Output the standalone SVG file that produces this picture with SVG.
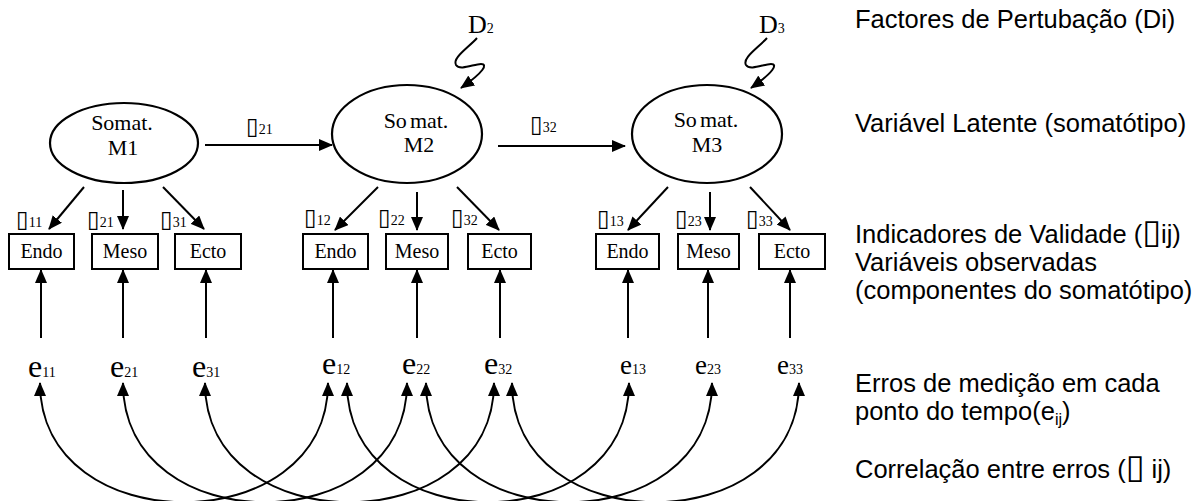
<svg xmlns="http://www.w3.org/2000/svg" width="1198" height="501" viewBox="0 0 1198 501">
<style>
.ell{fill:#fff;stroke:#000;stroke-width:2.2}
.box{fill:#fff;stroke:#000;stroke-width:2}
.ln{fill:none;stroke:#000;stroke-width:2}
.tm{font-family:"Liberation Serif","Times New Roman",serif;fill:#000}
.big{font-size:22px}
.bx{font-size:20px}
.sub{font-size:14px}
.tofu{font-family:"DejaVu Sans",sans-serif;font-size:23px}
.lg{font-family:"Liberation Sans",Arial,sans-serif;font-size:25.5px;fill:#000}
.lt{font-family:"DejaVu Sans",sans-serif;font-size:34px}
</style>
<defs>
<marker id="ah" viewBox="0 0 14 12" refX="13" refY="6" markerWidth="14" markerHeight="12" markerUnits="userSpaceOnUse" orient="auto-start-reverse">
<path d="M0,0 L14,6 L0,12 z" fill="#000"/>
</marker>
</defs>

<g id="connectors">
<line class="ln" x1="205" y1="145" x2="332" y2="145" marker-end="url(#ah)"/>
<line class="ln" x1="498" y1="146" x2="625" y2="146" marker-end="url(#ah)"/>
<path class="ln" d="M477,38 C468,48 452,58 456,65 C460,71 474,64 481,64 C488,64 484,72 461,88" marker-end="url(#ah)"/>
<path class="ln" d="M767,38 C758,48 742,58 746,65 C750,71 764,64 771,64 C778,64 774,72 751,88" marker-end="url(#ah)"/>
<line class="ln" x1="84" y1="187" x2="49" y2="229" marker-end="url(#ah)"/>
<line class="ln" x1="123" y1="190" x2="123" y2="229" marker-end="url(#ah)"/>
<line class="ln" x1="163" y1="187" x2="204" y2="229" marker-end="url(#ah)"/>
<line class="ln" x1="378" y1="187" x2="335" y2="230" marker-end="url(#ah)"/>
<line class="ln" x1="417" y1="192" x2="417" y2="230" marker-end="url(#ah)"/>
<line class="ln" x1="457" y1="187" x2="499" y2="230" marker-end="url(#ah)"/>
<line class="ln" x1="668" y1="187" x2="628" y2="230" marker-end="url(#ah)"/>
<line class="ln" x1="710" y1="192" x2="710" y2="230" marker-end="url(#ah)"/>
<line class="ln" x1="750" y1="187" x2="790" y2="230" marker-end="url(#ah)"/>
<line class="ln" x1="41" y1="338" x2="41" y2="270" marker-end="url(#ah)"/>
<line class="ln" x1="123" y1="338" x2="123" y2="270" marker-end="url(#ah)"/>
<line class="ln" x1="206" y1="338" x2="206" y2="270" marker-end="url(#ah)"/>
<line class="ln" x1="333" y1="338" x2="333" y2="270" marker-end="url(#ah)"/>
<line class="ln" x1="417" y1="338" x2="417" y2="270" marker-end="url(#ah)"/>
<line class="ln" x1="500" y1="338" x2="500" y2="270" marker-end="url(#ah)"/>
<line class="ln" x1="628" y1="338" x2="628" y2="270" marker-end="url(#ah)"/>
<line class="ln" x1="708" y1="338" x2="708" y2="270" marker-end="url(#ah)"/>
<line class="ln" x1="790" y1="338" x2="790" y2="270" marker-end="url(#ah)"/>
<path class="ln" d="M40,383 C40,542 328,542 328,383" marker-start="url(#ah)" marker-end="url(#ah)"/>
<path class="ln" d="M123,383 C123,542 407,542 407,383" marker-start="url(#ah)" marker-end="url(#ah)"/>
<path class="ln" d="M205,383 C205,542 494,542 494,383" marker-start="url(#ah)" marker-end="url(#ah)"/>
<path class="ln" d="M347,383 C347,542 629,542 629,383" marker-start="url(#ah)" marker-end="url(#ah)"/>
<path class="ln" d="M426,383 C426,542 712,542 712,383" marker-start="url(#ah)" marker-end="url(#ah)"/>
<path class="ln" d="M512,383 C512,542 799,542 799,383" marker-start="url(#ah)" marker-end="url(#ah)"/>
<text class="tm sub" x="246" y="134"><tspan class="tofu">▯</tspan>21</text>
<text class="tm sub" x="530" y="132"><tspan class="tofu">▯</tspan>32</text>
<text class="tm sub" x="16" y="227"><tspan class="tofu">▯</tspan>11</text>
<text class="tm sub" x="87" y="227"><tspan class="tofu">▯</tspan>21</text>
<text class="tm sub" x="160" y="227"><tspan class="tofu">▯</tspan>31</text>
<text class="tm sub" x="304" y="225"><tspan class="tofu">▯</tspan>12</text>
<text class="tm sub" x="378" y="225"><tspan class="tofu">▯</tspan>22</text>
<text class="tm sub" x="451" y="225"><tspan class="tofu">▯</tspan>32</text>
<text class="tm sub" x="597" y="226"><tspan class="tofu">▯</tspan>13</text>
<text class="tm sub" x="675" y="226"><tspan class="tofu">▯</tspan>23</text>
<text class="tm sub" x="746" y="226"><tspan class="tofu">▯</tspan>33</text>
</g>

<g id="D2"><text class="tm" x="468" y="33" font-size="26">D<tspan font-size="14">2</tspan></text></g>
<g id="D3"><text class="tm" x="759" y="33" font-size="26">D<tspan font-size="14">3</tspan></text></g>

<g id="M1">
<ellipse class="ell" cx="124" cy="143" rx="74" ry="40"/>
<text class="tm big" x="122" y="130" text-anchor="middle">Somat.</text>
<text class="tm big" x="123" y="155" text-anchor="middle">M1</text>
</g>
<g id="M2">
<ellipse class="ell" cx="407" cy="134" rx="75" ry="49"/>
<text class="tm big" x="416" y="128" text-anchor="middle">So<tspan dx="3">mat.</tspan></text>
<text class="tm big" x="419" y="152" text-anchor="middle">M2</text>
</g>
<g id="M3">
<ellipse class="ell" cx="707" cy="134" rx="75" ry="49"/>
<text class="tm big" x="706" y="127" text-anchor="middle">So<tspan dx="3">mat.</tspan></text>
<text class="tm big" x="707" y="152" text-anchor="middle">M3</text>
</g>

<g id="Endo1"><rect class="box" x="9" y="234" width="65" height="35"/><text class="tm bx" x="41.5" y="258" text-anchor="middle">Endo</text></g>
<g id="Meso1"><rect class="box" x="92" y="234" width="66" height="35"/><text class="tm bx" x="125" y="258" text-anchor="middle">Meso</text></g>
<g id="Ecto1"><rect class="box" x="175" y="234" width="66" height="35"/><text class="tm bx" x="208" y="258" text-anchor="middle">Ecto</text></g>
<g id="Endo2"><rect class="box" x="303" y="234" width="65" height="35"/><text class="tm bx" x="335.5" y="258" text-anchor="middle">Endo</text></g>
<g id="Meso2"><rect class="box" x="386" y="234" width="62" height="35"/><text class="tm bx" x="417" y="258" text-anchor="middle">Meso</text></g>
<g id="Ecto2"><rect class="box" x="468" y="234" width="63" height="35"/><text class="tm bx" x="499.5" y="258" text-anchor="middle">Ecto</text></g>
<g id="Endo3"><rect class="box" x="596" y="234" width="63" height="35"/><text class="tm bx" x="627.5" y="258" text-anchor="middle">Endo</text></g>
<g id="Meso3"><rect class="box" x="678" y="234" width="61" height="35"/><text class="tm bx" x="708.5" y="258" text-anchor="middle">Meso</text></g>
<g id="Ecto3"><rect class="box" x="759" y="234" width="66" height="35"/><text class="tm bx" x="792" y="258" text-anchor="middle">Ecto</text></g>

<g id="e11"><text class="tm" x="28" y="377" font-size="32">e<tspan font-size="14">11</tspan></text></g>
<g id="e21"><text class="tm" x="110" y="377" font-size="32">e<tspan font-size="14">21</tspan></text></g>
<g id="e31"><text class="tm" x="192" y="377" font-size="32">e<tspan font-size="14">31</tspan></text></g>
<g id="e12"><text class="tm" x="322" y="374" font-size="32">e<tspan font-size="14">12</tspan></text></g>
<g id="e22"><text class="tm" x="402" y="374" font-size="32">e<tspan font-size="14">22</tspan></text></g>
<g id="e32"><text class="tm" x="484" y="374" font-size="32">e<tspan font-size="14">32</tspan></text></g>
<g id="e13"><text class="tm" x="620" y="374" font-size="27">e<tspan font-size="14">13</tspan></text></g>
<g id="e23"><text class="tm" x="695" y="374" font-size="27">e<tspan font-size="14">23</tspan></text></g>
<g id="e33"><text class="tm" x="777" y="374" font-size="27">e<tspan font-size="14">33</tspan></text></g>

<g id="legend">
<text class="lg" x="855" y="28">Factores de Pertubação (Di)</text>
<text class="lg" x="855" y="132">Variável Latente (somatótipo)</text>
<text class="lg" x="855" y="243">Indicadores de Validade (<tspan class="lt">▯</tspan>ij)</text>
<text class="lg" x="855" y="271">Variáveis observadas</text>
<text class="lg" x="855" y="299">(componentes do somatótipo)</text>
<text class="lg" x="855" y="392">Erros de medição em cada</text>
<text class="lg" x="855" y="420">ponto do tempo(e<tspan font-size="16" dy="5">ij</tspan><tspan dy="-5">)</tspan></text>
<text class="lg" x="855" y="478">Correlação entre erros (<tspan class="lt">▯</tspan> ij)</text>
</g>
</svg>
